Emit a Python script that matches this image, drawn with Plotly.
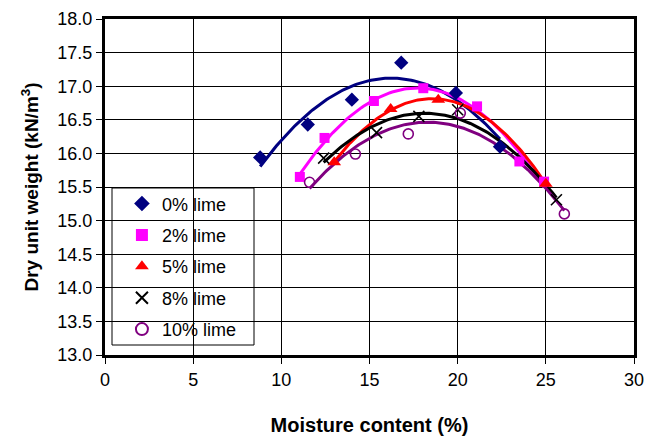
import numpy as np
import plotly.graph_objects as go

# Compaction test results: moisture content (%) vs dry unit weight (kN/m3)
lime_labels = ["0% lime", "2% lime", "5% lime", "8% lime", "10% lime"]

mc_0 = [8.8, 11.5, 14.0, 16.8, 19.9, 22.4]
dw_0 = [15.94, 16.43, 16.80, 17.35, 16.90, 16.10]

mc_2 = [11.05, 12.45, 15.25, 18.05, 21.1, 23.5, 24.9]
dw_2 = [15.65, 16.23, 16.78, 16.97, 16.70, 15.88, 15.58]

mc_5 = [13.0, 16.2, 18.9, 25.0]
dw_5 = [15.87, 16.66, 16.80, 15.55]

mc_8 = [12.4, 15.4, 17.8, 20.0, 25.6]
dw_8 = [15.93, 16.31, 16.55, 16.65, 15.31]

mc_10 = [11.6, 14.2, 17.2, 20.15, 26.05]
dw_10 = [15.57, 15.99, 16.29, 16.60, 15.10]

x_ticks = [0, 5, 10, 15, 20, 25, 30]
y_ticks = [13.0, 13.5, 14.0, 14.5, 15.0, 15.5, 16.0, 16.5, 17.0, 17.5, 18.0]

series = [
    (mc_0, dw_0, "#000080", dict(symbol="diamond", size=11, color="#000080")),
    (mc_2, dw_2, "#FF00FF", dict(symbol="square", size=10, color="#FF00FF")),
    (mc_5, dw_5, "#FF0000", dict(symbol="triangle-up", size=12, color="#FF0000")),
    (mc_8, dw_8, "#000000", dict(symbol="x-thin-open", size=11, color="#000000",
                                 line=dict(width=1.6, color="#000000"))),
    (mc_10, dw_10, "#800080", dict(symbol="circle-open", size=10, color="#800080",
                                   line=dict(width=1.6, color="#800080"))),
]

fig = go.Figure()

# second-order polynomial trendline for each lime content
for (mc, dw, col, mk), name in zip(series, lime_labels):
    coef = np.polyfit(mc, dw, 2)
    xs = np.linspace(min(mc), max(mc), 120)
    fig.add_trace(go.Scatter(x=xs, y=np.polyval(coef, xs), mode="lines",
                             line=dict(color=col, width=3), showlegend=False,
                             hoverinfo="skip"))

for (mc, dw, col, mk), name in zip(series, lime_labels):
    fig.add_trace(go.Scatter(x=mc, y=dw, mode="markers", name=name, marker=mk,
                             legendgroup=name))

font_family = "Liberation Sans, Arial, sans-serif"

fig.update_layout(
    width=660, height=438,
    margin=dict(l=105, r=26, t=19, b=83),
    paper_bgcolor="white", plot_bgcolor="white",
    font=dict(family=font_family, size=18, color="black"),
    showlegend=True,
    legend=dict(x=0.032, y=0.505, xanchor="left", yanchor="top",
                bgcolor="rgba(0,0,0,0)", borderwidth=0,
                font=dict(size=18), tracegroupgap=5,
                itemsizing="constant"),
    shapes=[dict(type="rect", xref="paper", yref="paper",
                 x0=(112 - 105) / 529, x1=(254 - 105) / 529,
                 y0=(355 - 345) / 336, y1=(355 - 188) / 336,
                 line=dict(color="black", width=1), fillcolor="white",
                 layer="below")],
)

fig.update_xaxes(
    range=[0, 30], tickvals=x_ticks, ticktext=[str(v) for v in x_ticks],
    showgrid=True, gridcolor="black", gridwidth=1,
    showline=True, linecolor="black", linewidth=3, mirror=True,
    ticks="outside", ticklen=6, tickcolor="black", tickwidth=1,
    zeroline=False, tickfont=dict(size=18), automargin=False,
    title=dict(text="<b>Moisture content (%)</b>", font=dict(size=20), standoff=30),
)
fig.update_yaxes(
    range=[13, 18], tickvals=y_ticks, ticktext=[f"{v:.1f}" for v in y_ticks],
    showgrid=True, gridcolor="black", gridwidth=1,
    showline=True, linecolor="black", linewidth=3, mirror=True,
    ticks="outside", ticklen=6, tickcolor="black", tickwidth=1,
    zeroline=False, tickfont=dict(size=18), automargin=False,
    title=dict(text="<b>Dry unit weight (kN/m<sup>3</sup>)</b>", font=dict(size=19),
               standoff=14),
)

fig.write_html("out.html")
